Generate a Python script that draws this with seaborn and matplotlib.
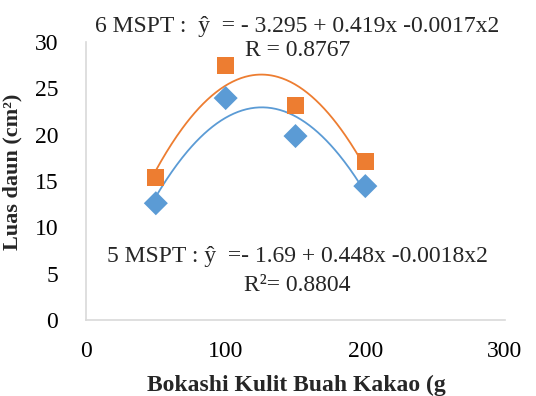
import numpy as np
import pandas as pd
import matplotlib
matplotlib.use("Agg")
import matplotlib.pyplot as plt
import seaborn as sns

# Bokashi dose (g) and leaf area (cm²) at 5 and 6 weeks after planting
dose = [50, 100, 150, 200]
area_5mspt = [12.6, 23.95, 19.85, 14.45]
area_6mspt = [15.4, 27.5, 23.2, 17.15]

x_ticks = [0, 100, 200, 300]
y_ticks = [0, 5, 10, 15, 20, 25, 30]

eq_6 = ["6 MSPT :  ŷ  = - 3.295 + 0.419x -0.0017x2", "R = 0.8767"]
eq_5 = ["5 MSPT : ŷ  =- 1.69 + 0.448x -0.0018x2", "R²= 0.8804"]

BLUE = "#5B9BD5"
ORANGE = "#ED7D31"

sns.set_theme(style="white")
plt.rcParams["font.family"] = ["Liberation Serif", "DejaVu Serif"]

df = pd.DataFrame({
    "dose": dose * 2,
    "area": area_5mspt + area_6mspt,
    "series": ["5 MSPT"] * 4 + ["6 MSPT"] * 4,
})

fig = plt.figure(figsize=(5.36, 3.96), dpi=100)
ax = fig.add_axes([86 / 536, 1 - 320 / 396, (505 - 86) / 536, (320 - 42) / 396])

# polynomial trendlines (order 2) over the data range
for vals, col in [(area_5mspt, BLUE), (area_6mspt, ORANGE)]:
    coef = np.polyfit(dose, vals, 2)
    xs = np.linspace(min(dose), max(dose), 200)
    sns.lineplot(x=xs, y=np.polyval(coef, xs), ax=ax, color=col, lw=1.3)

sns.scatterplot(data=df, x="dose", y="area", hue="series", style="series",
                markers={"5 MSPT": "D", "6 MSPT": "s"},
                palette={"5 MSPT": BLUE, "6 MSPT": ORANGE},
                s=150, linewidth=0, ax=ax, legend=False, zorder=5)
# diamond a bit smaller than the square
ax.collections[0].set_sizes([120])

ax.set_xlim(0, 300)
ax.set_ylim(0, 30)
ax.set_xticks(x_ticks)
ax.set_yticks(y_ticks)
ax.tick_params(axis="both", labelsize=17, length=0, colors="black")
ax.tick_params(axis="x", pad=15)
ax.tick_params(axis="y", pad=20)

for side in ["top", "right"]:
    ax.spines[side].set_visible(False)
for side in ["left", "bottom"]:
    ax.spines[side].set_color("#D9D9D9")
    ax.spines[side].set_linewidth(1.2)

ax.set_xlabel("Bokashi Kulit Buah Kakao (g", fontsize=17, fontweight="bold")
ax.xaxis.set_label_coords((296 - 86) / 419, (320 - 375) / 278)
ax.set_ylabel("Luas daun (cm²)", fontsize=16, fontweight="bold")
ax.yaxis.set_label_coords((22 - 86) / 419, (320 - 172) / 278)

eq_x = 151.5
ax.text(eq_x, 31.65, eq_6[0], fontsize=17, ha="center", va="center", clip_on=False)
ax.text(eq_x, 29.1, eq_6[1], fontsize=17, ha="center", va="center", clip_on=False)
ax.text(eq_x, 6.9, eq_5[0], fontsize=17, ha="center", va="center")
ax.text(eq_x, 3.7, eq_5[1], fontsize=17, ha="center", va="center")

fig.savefig("out.png", dpi=100)
